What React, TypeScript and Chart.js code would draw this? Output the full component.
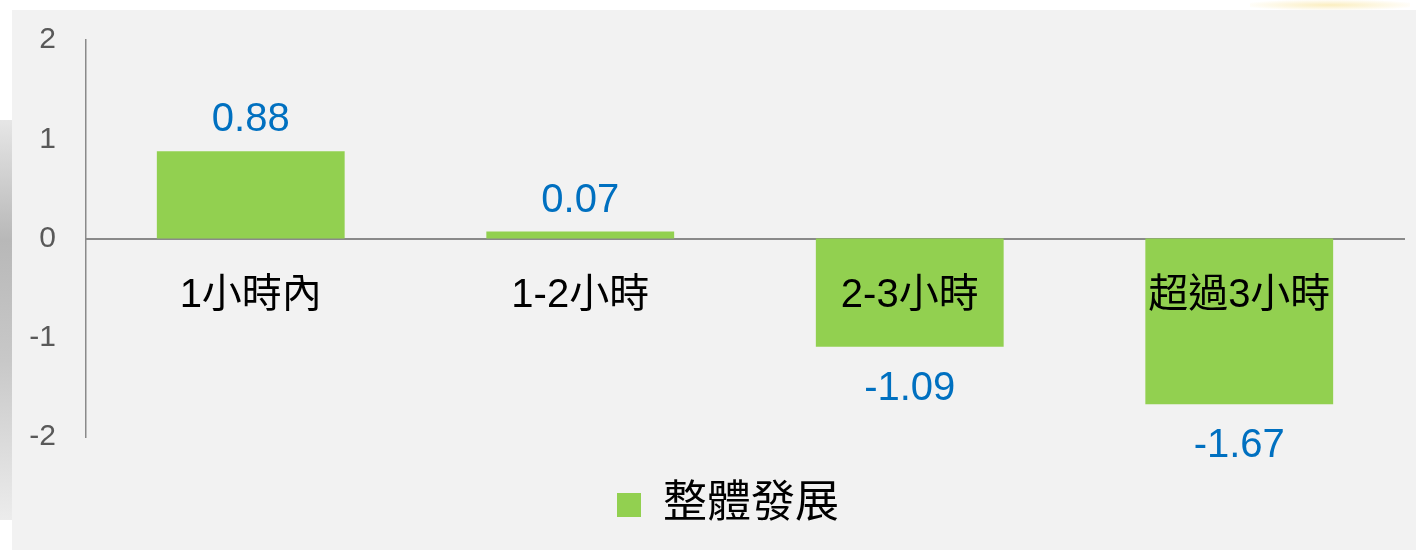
import React, { useEffect, useRef } from "react";
import { Chart, registerables } from "chart.js";

Chart.register(...registerables);

const categories = ["1小時內", "1-2小時", "2-3小時", "超過3小時"];
const values = [0.88, 0.07, -1.09, -1.67];
const seriesName = "整體發展";
const yTicks = [-2, -1, 0, 1, 2];

const FONT = '"Liberation Sans", Arial, "Noto Sans CJK TC", sans-serif';

const valueLabelPlugin = {
  id: "valueLabels",
  afterLayout(chart: any) {
    // let the y tick labels use the space left of the axis
    if (chart.scales.y) chart.scales.y.left = 0;
  },
  afterDatasetsDraw(chart: any) {
    const ctx = chart.ctx;
    chart.data.datasets.forEach((ds: any, di: number) => {
      const meta = chart.getDatasetMeta(di);
      meta.data.forEach((bar: any, i: number) => {
        const v = ds.data[i] as number;
        ctx.save();
        ctx.font = `40px ${FONT}`;
        ctx.fillStyle = "#0070C0";
        ctx.textAlign = "center";
        ctx.textBaseline = "alphabetic";
        const y = v >= 0 ? bar.y - 20 : bar.y + 53;
        ctx.fillText(v.toFixed(2), bar.x, y);
        ctx.restore();
      });
    });
  },
};

export default function App() {
  const ref = useRef<HTMLCanvasElement | null>(null);

  useEffect(() => {
    if (!ref.current) return;
    const chart = new Chart(ref.current, {
      type: "bar",
      data: {
        labels: categories,
        datasets: [
          {
            label: seriesName,
            data: values,
            backgroundColor: "#92D050",
            borderWidth: 0,
            barPercentage: 0.57,
            categoryPercentage: 1,
          },
        ],
      },
      options: {
        animation: false,
        responsive: false,
        devicePixelRatio: 1,
        layout: { padding: { left: 52, right: 12, top: 40, bottom: 13 } },
        plugins: {
          tooltip: { enabled: false },
          legend: {
            position: "bottom",
            title: {
              display: true,
              text: "",
              font: { size: 10, lineHeight: 1 },
              padding: { top: 26, bottom: 0 },
            },
            labels: {
              boxWidth: 24,
              boxHeight: 24,
              padding: 10,
              color: "#000",
              font: { size: 44, family: FONT },
            },
          },
        },
        scales: {
          x: {
            position: { y: 0 } as any,
            grid: { display: false, drawTicks: false },
            border: { display: true, color: "#8a8a8a", width: 2 },
            ticks: {
              z: 1,
              color: "#000",
              padding: 33,
              maxRotation: 0,
              autoSkip: false,
              font: { size: 40, family: FONT },
            },
          },
          y: {
            min: -2,
            max: 2,
            grid: { display: false, drawTicks: false },
            border: { display: true, color: "#8a8a8a", width: 1.5 },
            ticks: {
              color: "#595959",
              padding: 30,
              font: { size: 30, family: FONT },
            },
            afterBuildTicks: (s: any) => {
              s.ticks = yTicks.map((v) => ({ value: v }));
            },
            afterFit: (s: any) => {
              s.width = 34;
              s.paddingTop = 0;
              s.paddingBottom = 0;
            },
          },
        },
      },
      plugins: [valueLabelPlugin],
    });
    return () => chart.destroy();
  }, []);

  return (
    <div
      style={{
        position: "absolute",
        left: 0,
        top: 0,
        width: 1416,
        height: 550,
        background: "#ffffff",
        overflow: "hidden",
      }}
    >
      <div
        style={{
          position: "absolute",
          left: 0,
          top: 120,
          width: 12,
          height: 400,
          background: "linear-gradient(180deg, #e6e6e6 0%, #b8b8b8 30%, #c8c8c8 60%, #ececec 100%)",
        }}
      />
      <div
        style={{
          position: "absolute",
          left: 1250,
          top: 0,
          width: 160,
          height: 10,
          background: "radial-gradient(ellipse at center, #fbeec0 0%, #ffffff 80%)",
        }}
      />
      <div
        style={{
          position: "absolute",
          left: 12,
          top: 10,
          width: 1404,
          height: 540,
          background: "#f2f2f2",
        }}
      />
      <canvas
        ref={ref}
        width={1416}
        height={550}
        style={{ position: "absolute", left: 0, top: 0, width: 1416, height: 550 }}
      />
    </div>
  );
}
